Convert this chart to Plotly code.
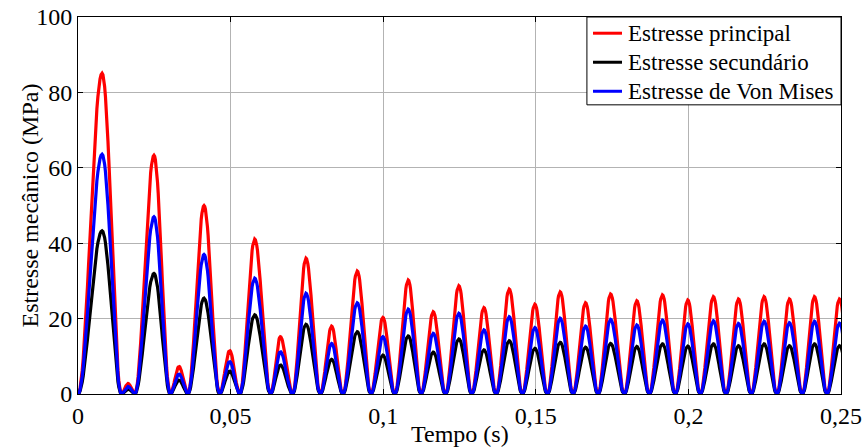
import numpy as np
import plotly.graph_objects as go

# ---- data ----
# zero-crossing times bounding each lobe (s)
zero_t = [0.0, 0.0142, 0.0186, 0.0302, 0.0360, 0.0464, 0.0530, 0.0631, 0.0703,
          0.0794, 0.0868, 0.0960, 0.1038, 0.1124, 0.1204, 0.1290, 0.1370, 0.1456,
          0.1538, 0.1622, 0.1704, 0.1790, 0.1872, 0.1957, 0.2039, 0.2123, 0.2206,
          0.2290, 0.2373, 0.2454, 0.2537]
# time of each lobe's peak (s)
peak_t = [0.0079, 0.0164, 0.0249, 0.0331, 0.0413, 0.0497, 0.0579, 0.0663, 0.0747,
          0.0831, 0.0915, 0.0999, 0.1082, 0.1164, 0.1248, 0.1330, 0.1413, 0.1497,
          0.1580, 0.1663, 0.1745, 0.1831, 0.1915, 0.1998, 0.2082, 0.2164, 0.2248,
          0.2331, 0.2413, 0.2495]
# peak values of each lobe (MPa)
principal = [85.1, 2.8, 63.3, 7.3, 50.0, 11.5, 41.1, 15.2, 36.0, 18.0, 32.6, 20.3,
             30.2, 21.8, 28.7, 22.9, 27.8, 23.8, 27.1, 24.2, 26.5, 24.7, 26.3, 24.9,
             25.8, 25.2, 25.8, 25.2, 25.8, 25.2]
secundario = [43.3, 1.3, 32.0, 3.7, 25.4, 6.1, 21.0, 7.7, 18.5, 9.2, 16.5, 10.3,
              15.4, 11.1, 14.6, 11.7, 14.1, 12.1, 13.7, 12.4, 13.4, 12.6, 13.3, 12.7,
              13.3, 12.8, 13.3, 12.8, 13.3, 12.8]
von_mises = [63.6, 2.0, 47.0, 5.3, 37.0, 8.6, 30.7, 11.2, 26.7, 13.4, 24.2, 15.2,
             22.5, 16.1, 21.4, 17.0, 20.5, 17.6, 20.1, 18.0, 19.8, 18.3, 19.6, 18.6,
             19.4, 18.7, 19.3, 18.9, 19.3, 18.8]

names = ["Estresse principal", "Estresse secundário", "Estresse de Von Mises"]
colors = ["#ff0000", "#000000", "#0000ff"]
x_ticks = [0, 0.05, 0.1, 0.15, 0.2, 0.25]
x_ticktext = ["0", "0,05", "0,1", "0,15", "0,2", "0,25"]
y_ticks = [0, 20, 40, 60, 80, 100]


def lobes(peaks):
    xs, ys = [], []
    n = 24
    for k, P in enumerate(peaks):
        z0, p, z1 = zero_t[k], peak_t[k], zero_t[k + 1]
        u = np.linspace(0, 1, n)
        xs.extend(z0 + (p - z0) * u)
        ys.extend(P * np.sin(np.pi / 2 * u) ** 2)
        u = np.linspace(0, 1, n)[1:]
        xs.extend(p + (z1 - p) * u)
        ys.extend(P * np.cos(np.pi / 2 * u) ** 2)
    return xs, ys


fig = go.Figure()
for name, col, vals in zip(names, colors, [principal, secundario, von_mises]):
    xs, ys = lobes(vals)
    fig.add_trace(go.Scatter(x=xs, y=ys, mode="lines", name=name, showlegend=False,
                             line=dict(color=col, width=3.2)))

fam = "Liberation Serif, Times New Roman, serif"
font = dict(family=fam, size=24, color="black")
lfont = dict(family=fam, size=23, color="black")

# compact MATLAB-style legend box (paper coordinates)
shapes = [dict(type="rect", xref="paper", yref="paper", x0=0.667, x1=1.0,
               y0=0.767, y1=1.0, fillcolor="white", line=dict(color="black", width=1),
               layer="above")]
annotations = []
row_y = [0.957, 0.880, 0.803]
for name, col, ry in zip(names, colors, row_y):
    shapes.append(dict(type="line", xref="paper", yref="paper", x0=0.675, x1=0.713,
                       y0=ry, y1=ry, line=dict(color=col, width=3), layer="above"))
    annotations.append(dict(text=name, x=0.7185, y=ry, xref="paper", yref="paper",
                            xanchor="left", yanchor="middle", showarrow=False,
                            font=lfont))

annotations += [
    dict(text="Tempo (s)", x=0.5, y=0, xref="paper", yref="paper",
         xanchor="center", yanchor="top", yshift=-25, showarrow=False, font=font),
    dict(text="Estresse mecânico (MPa)", x=0, y=0.5, xref="paper", yref="paper",
         xanchor="center", yanchor="middle", xshift=-49, textangle=-90,
         showarrow=False, font=font),
]

fig.update_layout(
    width=864, height=448,
    margin=dict(l=78, r=23, t=17, b=54, autoexpand=False),
    paper_bgcolor="white", plot_bgcolor="white",
    font=font,
    showlegend=False,
    shapes=shapes,
    annotations=annotations,
)
fig.update_xaxes(range=[0, 0.25], tickvals=x_ticks, ticktext=x_ticktext,
                 showgrid=True, gridcolor="#b3b3b3", gridwidth=1,
                 showline=True, linecolor="black", linewidth=1, mirror="allticks",
                 ticks="inside", ticklen=5, tickcolor="black", zeroline=False,
                 tickfont=font, automargin=False)
fig.update_yaxes(range=[0, 100], tickvals=y_ticks,
                 showgrid=True, gridcolor="#b3b3b3", gridwidth=1,
                 showline=True, linecolor="black", linewidth=1, mirror="allticks",
                 ticks="inside", ticklen=5, tickcolor="black", zeroline=False,
                 tickfont=font, automargin=False)

fig.write_html("out.html")
